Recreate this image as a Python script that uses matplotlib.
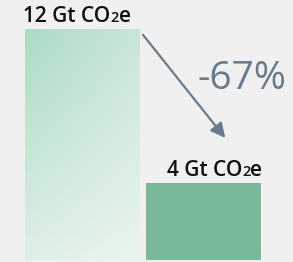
import numpy as np
import matplotlib
matplotlib.use("Agg")
import matplotlib.pyplot as plt
from matplotlib.offsetbox import TextArea, HPacker, AnnotationBbox

# data
labels = ["12 Gt CO", "4 Gt CO"]
values = [12, 4]
change_pct = round((values[1] - values[0]) / values[0] * 100)

bg = "#f0f0f0"
dark_green = "#7ab89a"
slate = "#6a7b8b"

fig = plt.figure(figsize=(2.93, 2.62), dpi=100, facecolor=bg)
ax = fig.add_axes([0, 0, 1, 1], facecolor=bg)
ax.set_xlim(-0.682, 1.740)
ax.set_ylim(-0.104, 13.51)
ax.axis("off")

width = 0.95
bars = ax.bar([0, 1], values, width=width, color=["none", dark_green], linewidth=0)

# gradient fill for the first bar
tl = np.array([0.67, 0.86, 0.77])
tr = np.array([0.79, 0.90, 0.84])
bl = np.array([0.87, 0.94, 0.90])
br = np.array([0.92, 0.96, 0.93])
u = np.linspace(0, 1, 60)[None, :, None]
v = np.linspace(0, 1, 120)[:, None, None]
grad = (1 - v) * ((1 - u) * tl + u * tr) + v * ((1 - u) * bl + u * br)
b0 = bars[0]
im = ax.imshow(grad, extent=[b0.get_x(), b0.get_x() + width, 0, values[0]],
               aspect="auto", origin="upper", zorder=1)
im.set_clip_path(b0)

# value labels with a small "2"
def label(i, txt, dx):
    font = dict(family="Open Sans", weight="semibold", color="#111111")
    parts = [TextArea(txt, textprops=dict(size=15, **font)),
             TextArea("2", textprops=dict(size=10.5, **font)),
             TextArea("e", textprops=dict(size=15, **font))]
    box = HPacker(children=parts, align="baseline", pad=0, sep=0)
    ab = AnnotationBbox(box, (i, values[i]), xybox=(dx, 9), xycoords="data",
                        boxcoords="offset points", frameon=False, box_alignment=(0.5, 0.5))
    ax.add_artist(ab)

label(0, labels[0], -4)
label(1, labels[1], 8)

# arrow and change
ax.annotate("", xy=(1.18, values[1] + 2.34), xytext=(0.5, values[0] - 0.3),
            arrowprops=dict(arrowstyle="-|>", color=slate, lw=1.6, mutation_scale=22,
                            shrinkA=0, shrinkB=0))
ax.text(1.318, 9.4, f"{change_pct}%", family="Open Sans", size=28,
        color=slate, ha="center", va="center")

fig.savefig("out.png", dpi=100, facecolor=bg)
